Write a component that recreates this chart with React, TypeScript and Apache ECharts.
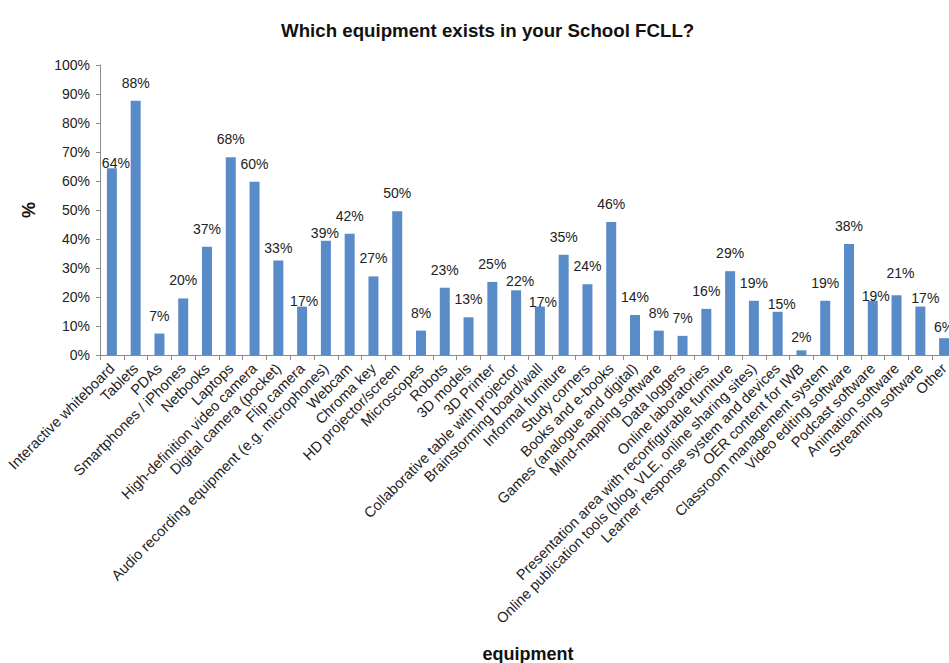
import React, { useEffect, useRef } from "react";
import * as echarts from "echarts";

const titleText = "Which equipment exists in your School FCLL?";
const xAxisName = "equipment";
const yAxisName = "%";

const categories: string[] = [
  "Interactive whiteboard",
  "Tablets",
  "PDAs",
  "Smartphones / iPhones",
  "Netbooks",
  "Laptops",
  "High-definition video camera",
  "Digital camera (pocket)",
  "Flip camera",
  "Audio recording equipment (e.g. microphones)",
  "Webcam",
  "Chroma key",
  "HD projector/screen",
  "Microscopes",
  "Robots",
  "3D models",
  "3D Printer",
  "Collaborative table with projector",
  "Brainstorming board/wall",
  "Informal furniture",
  "Study corners",
  "Books and e-books",
  "Games (analogue and digital)",
  "Mind-mapping software",
  "Data loggers",
  "Online laboratories",
  "Presentation area with reconfigurable furniture",
  "Online publication tools (blog, VLE, online sharing sites)",
  "Learner response system and devices",
  "OER content for IWB",
  "Classroom management system",
  "Video editing software",
  "Podcast software",
  "Animation software",
  "Streaming software",
  "Other",
];

const percentages: number[] = [
  64.4, 87.7, 7.4, 19.5, 37.3, 68.2, 59.7, 32.6, 16.7, 39.4, 41.8, 27.1, 49.6,
  8.4, 23.2, 13.0, 25.2, 22.3, 16.7, 34.6, 24.4, 45.9, 13.8, 8.4, 6.6, 15.9,
  28.9, 18.7, 14.9, 1.6, 18.7, 38.3, 18.7, 20.6, 16.7, 5.8,
];

const yTicks = { min: 0, max: 100, interval: 10 };

// label nudges (dx, dy) for the data labels that sit off their default place
const labelNudges: Record<number, [number, number]> = {
  0: [4, 13],
  7: [0, 6],
  8: [2, 12],
  9: [-1, 10],
  17: [4, 9],
  18: [3, 13],
  28: [4, 10],
  29: [0, 5],
  32: [3, 13],
  33: [4, -4],
  34: [5, 9],
  35: [0, 7],
};

const FONT = "'Liberation Sans', Arial, sans-serif";

export default function App() {
  const ref = useRef<HTMLDivElement>(null);

  useEffect(() => {
    document.body.style.margin = "0";
    if (!ref.current) return;
    const chart = echarts.init(ref.current, null, { renderer: "svg" });
    const axisGray = "#8c8c8c";
    chart.setOption({
      animation: false,
      backgroundColor: "#ffffff",
      textStyle: { fontFamily: FONT },
      title: {
        text: titleText,
        left: 276,
        top: 16,
        textStyle: {
          fontFamily: FONT,
          fontSize: 18.7,
          fontWeight: "bold",
          color: "#111",
        },
      },
      grid: {
        left: 100,
        top: 65,
        bottom: 308,
        right: -7,
        containLabel: false,
        outerBoundsMode: "none",
      },
      xAxis: {
        type: "category",
        data: categories,
        name: xAxisName,
        nameLocation: "middle",
        nameGap: 290,
        nameTextStyle: {
          fontFamily: FONT,
          fontSize: 18,
          fontWeight: "bold",
          color: "#111",
        },
        axisLine: { lineStyle: { color: axisGray, width: 1 } },
        axisTick: { show: true, length: 5, lineStyle: { color: axisGray } },
        axisLabel: {
          rotate: 45,
          interval: 0,
          margin: 11,
          fontFamily: FONT,
          fontSize: 14.6,
          color: "#222",
        },
        splitLine: { show: false },
      },
      yAxis: {
        type: "value",
        min: yTicks.min,
        max: yTicks.max,
        interval: yTicks.interval,
        name: yAxisName,
        nameLocation: "middle",
        nameGap: 62,
        nameRotate: 90,
        nameTextStyle: {
          fontFamily: FONT,
          fontSize: 18,
          fontWeight: "bold",
          color: "#111",
        },
        axisLine: { show: true, lineStyle: { color: axisGray, width: 1 } },
        axisTick: { show: true, length: 4, lineStyle: { color: axisGray } },
        axisLabel: {
          formatter: "{value}%",
          margin: 10,
          fontFamily: FONT,
          fontSize: 14,
          color: "#222",
        },
        splitLine: { show: false },
      },
      series: [
        {
          type: "bar",
          barWidth: "42%",
          itemStyle: { color: "#588bc7" },
          label: {
            show: true,
            position: "top",
            distance: 11,
            fontFamily: FONT,
            fontSize: 14,
            color: "#222",
            formatter: (p: any) => Math.round(p.value) + "%",
          },
          data: percentages.map((v, i) =>
            labelNudges[i]
              ? { value: v, label: { offset: labelNudges[i] } }
              : { value: v }
          ),
        },
      ],
    });
    return () => chart.dispose();
  }, []);

  return <div ref={ref} style={{ width: 949, height: 663 }} />;
}
